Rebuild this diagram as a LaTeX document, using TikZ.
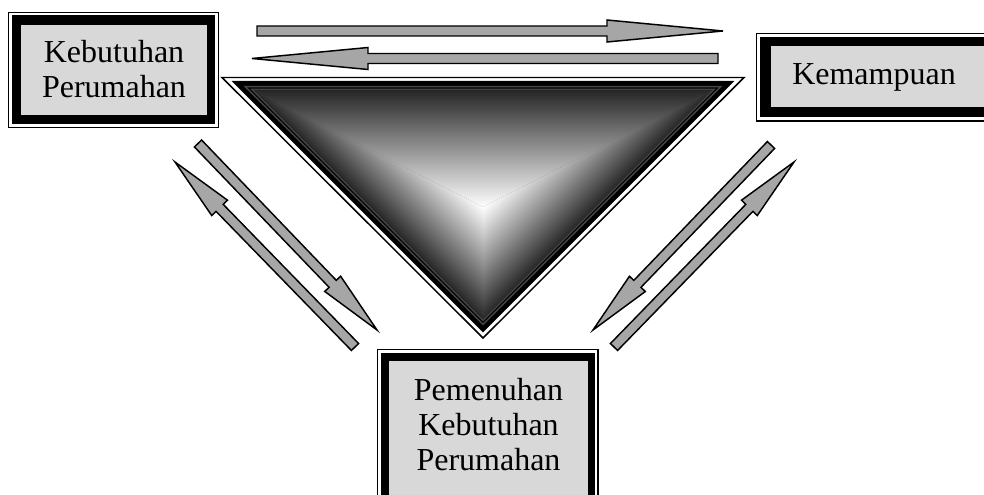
\documentclass[tikz,border=0pt]{standalone}
\usepackage{fontspec}
\setmainfont{Liberation Serif}
\usetikzlibrary{calc}
\definecolor{boxgray}{RGB}{216,216,216}
\definecolor{arrgray}{RGB}{166,166,166}
\tikzset{
  blockarr/.style={draw=black, fill=arrgray, line width=1.1pt},
  lbl/.style={anchor=base, inner sep=0pt, font=\fontsize{24}{26}\selectfont},
  thinframe/.style={draw=black, line width=1.1pt},
}
\newcommand\blockarrow[3]{%
  \coordinate (#1-#2-h) at ($(#2)!#3!(#1)$);
  \draw[blockarr] ($(#1)!3.75pt!90:(#2)$) -- ($(#1-#2-h)!3.75pt!90:(#2)$) --
    ($(#1-#2-h)!8.25pt!90:(#2)$) -- (#2) -- ($(#1-#2-h)!8.25pt!-90:(#2)$) --
    ($(#1-#2-h)!3.75pt!-90:(#2)$) -- ($(#1)!3.75pt!-90:(#2)$) -- cycle;
}
\begin{document}
\begin{tikzpicture}[x=0.75pt,y=-0.75pt]
\useasboundingbox (0,0) rectangle (984,495);
\clip (0,0) rectangle (984,495);
% ---- box 1
\draw[thinframe] (8.5,12.5) rectangle (218.5,127.5);
\fill[black] (12,15.5) rectangle (215,124);
\fill[boxgray] (21,25) rectangle (207,115);
\node[lbl] (kp1) at (114,63) {Kebutuhan};
\node[lbl] (kp2) at (114,98) {Perumahan};
% ---- box 2
\draw[thinframe] (756.5,33.5) rectangle (1000,121);
\fill[black] (760,37) rectangle (996,117.5);
\fill[boxgray] (770.5,46.5) rectangle (990,107);
\node[lbl] (km) at (874,85) {Kemampuan};
% ---- box 3
\draw[thinframe] (377.5,349.5) rectangle (598,520);
\fill[black] (380.5,352.5) rectangle (595,515);
\fill[boxgray] (389,361) rectangle (588,510);
\node[lbl] (pk1) at (488.5,400) {Pemenuhan};
\node[lbl] (pk2) at (488.5,435) {Kebutuhan};
\node[lbl] (pk3) at (488.5,470) {Perumahan};
% ---- triangle
\draw[line width=1.1pt] (222,77.5) -- (744,77.5) -- (483,338) -- cycle;
\fill[black] (231.7,81) -- (734.3,81) -- (483,332.3) -- cycle;
\fill[black!72] (243.7,86) -- (722.3,86) -- (483,325.3) -- cycle;
\draw[black, line width=0.8pt] (248.6,88) -- (717.4,88) -- (483,322.4) -- cycle;
\coordinate (gl) at (253.4,90);
\coordinate (gr) at (712.6,90);
\coordinate (ga) at (483,319.6);
\coordinate (gc) at (483,207);
\begin{scope}
  \clip (gl) -- (gr) -- (gc) -- cycle;
  \shade[top color=black!85, bottom color=white] (253,90) rectangle (713,207.5);
\end{scope}
\begin{scope}
  \clip (gl) -- (ga) -- (gc) -- cycle;
  \begin{scope}[transform canvas={shift={(483,207)}, rotate=225}]
    \shade[left color=white, right color=black!85] (-0.5,-320) rectangle (80,320);
  \end{scope}
\end{scope}
\begin{scope}
  \clip (gr) -- (ga) -- (gc) -- cycle;
  \begin{scope}[transform canvas={shift={(483,207)}, rotate=315}]
    \shade[left color=white, right color=black!85] (-0.5,-320) rectangle (80,320);
  \end{scope}
\end{scope}
% ---- arrows
\coordinate (a1t) at (257,31);
\coordinate (a1h) at (723,31);
\coordinate (a2t) at (718,58.5);
\coordinate (a2h) at (252,58.5);
\coordinate (a3t) at (198,143.5);
\coordinate (a3h) at (377,330);
\coordinate (a4t) at (355,347);
\coordinate (a4h) at (175,162);
\coordinate (a5t) at (771,145);
\coordinate (a5h) at (593,330);
\coordinate (a6t) at (614,347);
\coordinate (a6h) at (794,162);
\blockarrow{a1t}{a1h}{87pt}
\blockarrow{a2t}{a2h}{87pt}
\blockarrow{a3t}{a3h}{48pt}
\blockarrow{a4t}{a4h}{48pt}
\blockarrow{a5t}{a5h}{48pt}
\blockarrow{a6t}{a6h}{48pt}
\end{tikzpicture}
\end{document}
